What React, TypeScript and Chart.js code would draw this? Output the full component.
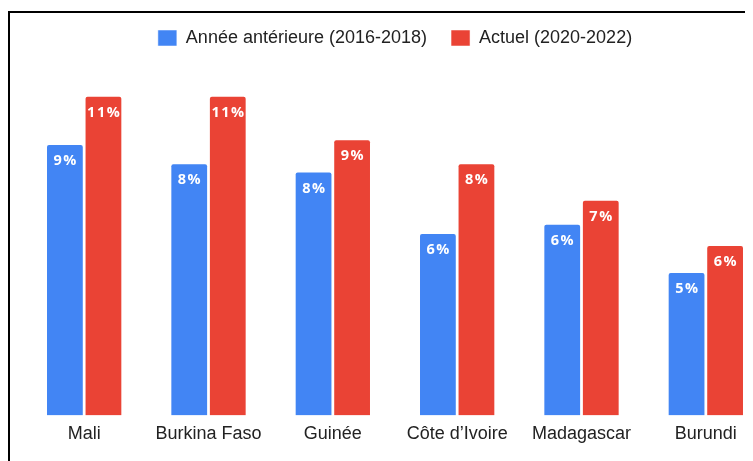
import React, { useEffect, useRef } from "react";
import { Chart, registerables } from "chart.js";

Chart.register(...registerables);

const categories = ["Mali", "Burkina Faso", "Guinée", "Côte d’Ivoire", "Madagascar", "Burundi"];
const seriesNames = ["Année antérieure (2016-2018)", "Actuel (2020-2022)"];
const previousValues = [9.03, 8.39, 8.12, 6.07, 6.38, 4.77];
const currentValues = [10.64, 10.64, 9.19, 8.39, 7.18, 5.67];
const seriesColors = ["#4285F4", "#EA4335"];

const valueLabels = {
  id: "valueLabels",
  afterDatasetsDraw(chart: any) {
    const ctx = chart.ctx;
    ctx.save();
    ctx.fillStyle = "#ffffff";
    ctx.font = "bold 14.5px 'Open Sans', sans-serif";
    try {
      (ctx as any).letterSpacing = "1.5px";
    } catch (e) {}
    ctx.textAlign = "center";
    ctx.textBaseline = "middle";
    chart.data.datasets.forEach((ds: any, i: number) => {
      const meta = chart.getDatasetMeta(i);
      meta.data.forEach((el: any, j: number) => {
        const v = ds.data[j];
        ctx.fillText(Math.round(v) + "%", el.x + 0.75, el.y + 17);
      });
    });
    ctx.restore();
  },
};

export default function App() {
  const ref = useRef<HTMLCanvasElement>(null);
  useEffect(() => {
    if (!ref.current) return;
    const chart = new Chart(ref.current, {
      type: "bar",
      data: {
        labels: categories,
        datasets: [
          {
            label: seriesNames[0],
            data: previousValues,
            backgroundColor: seriesColors[0],
            borderColor: "rgba(255,255,255,0.5)",
            borderWidth: 1,
            borderRadius: 3,
            borderSkipped: "bottom",
          },
          {
            label: seriesNames[1],
            data: currentValues,
            backgroundColor: seriesColors[1],
            borderColor: "rgba(255,255,255,0.5)",
            borderWidth: 1,
            borderRadius: 3,
            borderSkipped: "bottom",
          },
        ],
      },
      options: {
        responsive: false,
        animation: false,
        layout: { padding: { top: -8, left: 12, right: 12, bottom: 40 } },
        datasets: { bar: { categoryPercentage: 0.62, barPercentage: 0.98 } },
        plugins: {
          legend: {
            position: "top",
            labels: {
              boxWidth: 19,
              boxHeight: 16,
              padding: 24,
              color: "#222",
              font: { family: "'Liberation Sans', Arial, sans-serif", size: 18 },
            },
          },
          tooltip: { enabled: false },
        },
        scales: {
          x: {
            grid: { display: false, drawTicks: false },
            border: { display: false },
            ticks: {
              padding: 8,
              color: "#222",
              font: { family: "'Liberation Sans', Arial, sans-serif", size: 18 },
            },
          },
          y: {
            display: false,
            min: 0,
            max: 11.93,
          },
        },
      },
      plugins: [valueLabels],
    });
    return () => chart.destroy();
  }, []);
  return (
    <div style={{ width: 745, height: 453, overflow: "hidden" }}>
      <div style={{ marginTop: 3, width: 770, height: 480, border: "2px solid black" }}>
        <canvas ref={ref} width={770} height={480} style={{ display: "block" }} />
      </div>
    </div>
  );
}
